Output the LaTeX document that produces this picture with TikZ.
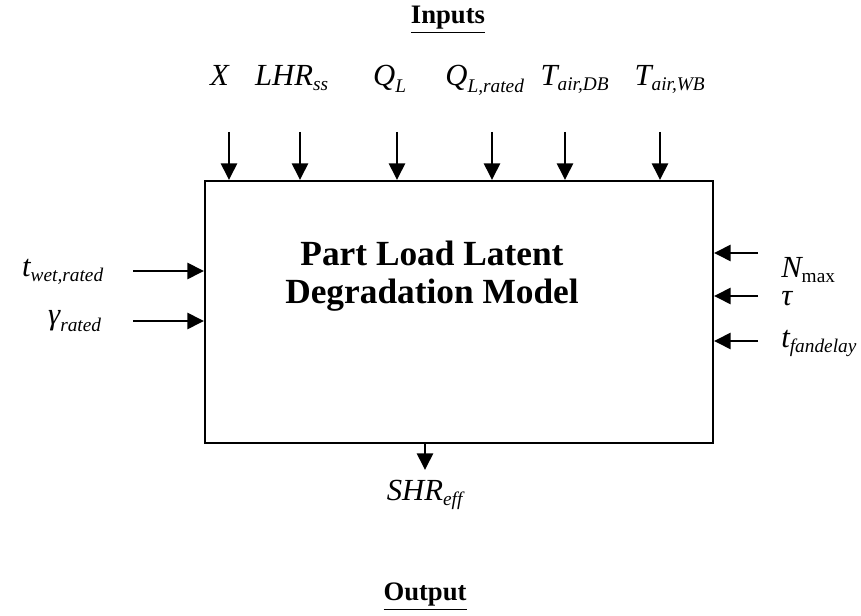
\documentclass[tikz,border=0pt]{standalone}
\usepackage{amsmath}
\usepackage{fontspec}
\setmainfont{Liberation Serif}
\usetikzlibrary{arrows.meta,positioning,calc}
\newcommand{\inp}[2]{\ensuremath{\textit{#1}_{\text{\fontsize{14.5}{15}\selectfont\itshape #2}}}}

\begin{document}
\begin{tikzpicture}[x=0.75pt, y=-0.75pt,
  model/.style={draw, line width=1.5pt, minimum width=381pt, minimum height=196.5pt, inner sep=0pt},
  title/.style={align=center, font=\fontsize{26.5}{28}\selectfont\bfseries},
  head/.style={font=\fontsize{20}{24}\selectfont\bfseries},
  var/.style={font=\fontsize{23}{26}\selectfont, inner sep=0pt},
  arr/.style={-{Triangle[length=12.5pt, width=12pt]}, line width=2pt}
]
\useasboundingbox (0,0) rectangle (861,616);
\node[model] (model) at (459,312) {};
\node[title] (name) at (432,276) {Part Load Latent\\Degradation Model};
\node[head] (inputs) at (448,20) {\underline{Inputs}};
\node[head] (output) at (425,597) {\underline{Output}};

\node[var, anchor=base] (x) at (220,86) {\textit{X}};
\node[var, anchor=base] (lhr) at (292,86) {\inp{LHR}{ss}};
\node[var, anchor=base] (ql) at (390,86) {\inp{Q}{L}};
\node[var, anchor=base] (qlr) at (485,86) {\inp{Q}{L,rated}};
\node[var, anchor=base] (tdb) at (575,86) {\inp{T}{air,DB}};
\node[var, anchor=base] (twb) at (670,86) {\inp{T}{air,WB}};
\coordinate (x-in) at (229,132);
\coordinate (lhr-in) at (300,132);
\coordinate (ql-in) at (397,132);
\coordinate (qlr-in) at (492,132);
\coordinate (tdb-in) at (565,132);
\coordinate (twb-in) at (660,132);
\draw[arr] (x-in) -- (x-in |- model.north);
\draw[arr] (lhr-in) -- (lhr-in |- model.north);
\draw[arr] (ql-in) -- (ql-in |- model.north);
\draw[arr] (qlr-in) -- (qlr-in |- model.north);
\draw[arr] (tdb-in) -- (tdb-in |- model.north);
\draw[arr] (twb-in) -- (twb-in |- model.north);

\node[var] (twet) at (63,272) {\inp{t}{wet,rated}};
\node[var] (gam) at (75,321) {\inp{γ}{rated}};
\coordinate (twet-in) at (133,271);
\coordinate (gam-in) at (133,321);
\draw[arr] (twet-in) -- (twet-in -| model.west);
\draw[arr] (gam-in) -- (gam-in -| model.west);

\node[var, anchor=west] (nmax) at (781,270) {\ensuremath{\textit{N}_{\text{\fontsize{14.5}{15}\selectfont max}}}};
\node[var, anchor=west] (tau) at (781,299) {\textit{τ}};
\node[var, anchor=west] (tfan) at (781,343) {\inp{t}{fandelay}};
\coordinate (nmax-in) at (758,253);
\coordinate (tau-in) at (758,296);
\coordinate (tfan-in) at (758,341);
\draw[arr] (nmax-in) -- (nmax-in -| model.east);
\draw[arr] (tau-in) -- (tau-in -| model.east);
\draw[arr] (tfan-in) -- (tfan-in -| model.east);

\coordinate (shr-out) at (425,470);
\node[var] (shr) at (425,495) {\inp{SHR}{eff}};
\draw[arr] (shr-out |- model.south) -- (shr-out);
\end{tikzpicture}
\end{document}
